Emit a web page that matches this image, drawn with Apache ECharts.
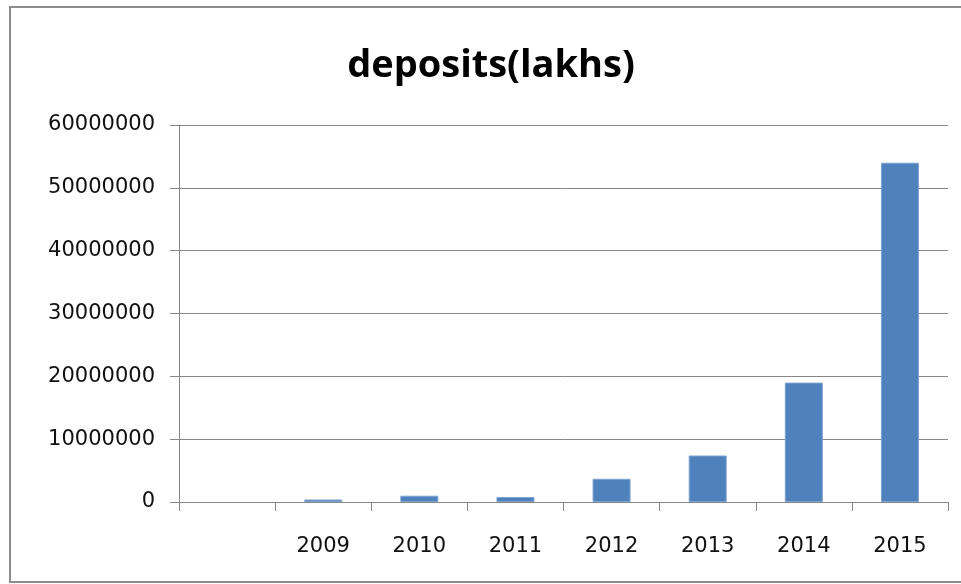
<!DOCTYPE html>
<html>
<head>
<meta charset="utf-8">
<script src="https://cdn.jsdelivr.net/npm/echarts@6/dist/echarts.min.js"></script>
<style>
  html, body { margin: 0; padding: 0; background: #fff; }
  #chart { width: 961px; height: 584px; }
</style>
</head>
<body>
<div id="chart"></div>
<script>
// categories (first slot is empty in the original sheet)
const years = ['', '2009', '2010', '2011', '2012', '2013', '2014', '2015']

// deposits
const deposits = [null, 400000, 1000000, 800000, 3700000, 7400000, 19000000, 54000000]

const chart = echarts.init(document.getElementById('chart'))

const option = {
  animation: false,
  title: {
    text: 'deposits(lakhs)',
    left: 486,
    top: 42,
    textAlign: 'center',
    textStyle: {
      fontFamily: 'Open Sans',
      fontWeight: 'bold',
      fontSize: 38,
      color: '#000'
    }
  },
  graphic: [{
    type: 'rect',
    shape: { x: 10, y: 7, width: 960, height: 575 },
    style: { fill: 'none', stroke: '#8c8c8c', lineWidth: 2 }
  }],
  grid: {
    left: 179,
    right: 13,
    top: 125,
    bottom: 82
  },
  xAxis: {
    type: 'category',
    data: years,
    axisLine: { lineStyle: { color: '#868686', width: 1 } },
    axisTick: { show: true, length: 9, interval: 0, lineStyle: { color: '#868686' } },
    axisLabel: {
      interval: 0,
      margin: 34,
      fontFamily: 'DejaVu Sans',
      fontSize: 21,
      color: '#111'
    }
  },
  yAxis: {
    type: 'value',
    min: 0,
    max: 60000000,
    interval: 10000000,
    axisLine: { show: true, lineStyle: { color: '#868686', width: 1 } },
    axisTick: { show: true, length: 9, lineStyle: { color: '#868686' } },
    splitLine: { lineStyle: { color: '#868686', width: 1 } },
    axisLabel: {
      margin: 24,
      fontFamily: 'DejaVu Sans',
      fontSize: 21,
      color: '#111',
      formatter: function (value) {
        return String(value)
      }
    }
  },
  series: [{
    name: 'deposits(lakhs)',
    type: 'bar',
    data: deposits,
    barWidth: 38,
    itemStyle: {
      color: '#4F81BD',
      borderColor: '#7fa3d1',
      borderWidth: 1
    }
  }]
}

chart.setOption(option)
</script>
</body>
</html>
